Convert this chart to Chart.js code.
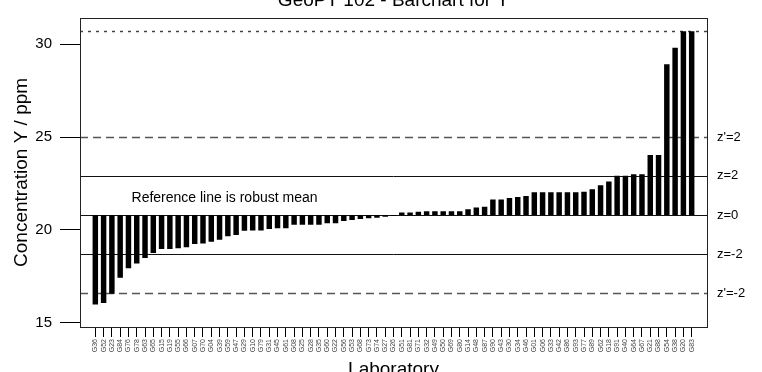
<!DOCTYPE html>
<html>
<head>
<meta charset="utf-8">
<script src="https://cdn.jsdelivr.net/npm/chart.js@4.4.1/dist/chart.umd.min.js"></script>
<style>
  html, body { margin: 0; padding: 0; background: #fff; overflow: hidden; }
  #wrap { width: 762px; height: 372px; position: relative; }
</style>
</head>
<body>
<div id="wrap"><canvas id="c" width="762" height="372"></canvas></div>
<script>
// Laboratory codes, sorted by reported concentration
const labs = [
  'G36','G52','G23','G84','G76','G78','G63','G65','G15','G19','G55','G66','G07','G70','G04','G39','G59','G47','G29','G10',
  'G79','G31','G45','G61','G08','G25','G28','G35','G60','G22','G56','G53','G68','G73','G74','G27','G26','G51','G81','G71',
  'G32','G49','G50','G69','G80','G14','G48','G87','G90','G43','G30','G34','G46','G01','G06','G33','G42','G86','G93','G77',
  'G89','G62','G18','G91','G40','G64','G67','G21','G88','G54','G38','G20','G83'
];

// Reported concentration Y / ppm for each laboratory
const conc = [
  15.97, 16.05, 16.55, 17.42, 17.93, 18.18, 18.48, 18.75, 18.97, 18.97, 19.00, 19.06, 19.24, 19.26, 19.36, 19.46, 19.65, 19.72, 19.95, 19.96,
  19.96, 20.05, 20.09, 20.09, 20.27, 20.27, 20.27, 20.27, 20.35, 20.35, 20.48, 20.53, 20.58, 20.62, 20.65, 20.70, 20.75, 20.93, 20.93, 20.97,
  21.00, 21.00, 21.00, 21.00, 21.00, 21.11, 21.20, 21.24, 21.64, 21.64, 21.71, 21.77, 21.82, 22.02, 22.02, 22.02, 22.02, 22.02, 22.02, 22.05,
  22.19, 22.40, 22.60, 22.92, 22.92, 23.00, 23.00, 24.03, 24.03, 28.93, 29.81, 30.70, 30.70
];

// Robust mean (bars start here) and score limits
const robustMean = 20.80;
const zLevels = [25.00, 22.92, 20.80, 18.68, 16.58];
const zNames  = ["z'=2", 'z=2', 'z=0', 'z=-2', "z'=-2"];
const maxLevel = 30.72;

// Left axis ticks
const yTicks = [15, 20, 25, 30];

const FONT = "'Liberation Sans', Arial, Helvetica, sans-serif";

// line style per score level: dashed for z', solid for z
const zStyle = [
  { dash: [8, 5], color: '#555', width: 1.3 },
  { dash: [],     color: '#111', width: 1 },
  { dash: [],     color: '#111', width: 1 },
  { dash: [],     color: '#111', width: 1 },
  { dash: [8, 5], color: '#555', width: 1.3 }
];

const refLines = {
  id: 'refLines',
  beforeDatasetsDraw(chart) {
    const { ctx, chartArea: a, scales: { y } } = chart;
    ctx.save();
    const hline = (v, st) => {
      const py = Math.round(y.getPixelForValue(v)) + 0.5;
      ctx.beginPath();
      ctx.setLineDash(st.dash);
      ctx.strokeStyle = st.color;
      ctx.lineWidth = st.width;
      ctx.moveTo(a.left, py);
      ctx.lineTo(a.right, py);
      ctx.stroke();
    };
    zLevels.forEach((v, i) => hline(v, zStyle[i]));
    hline(maxLevel, { dash: [3, 5], color: '#444', width: 1.3 });
    ctx.restore();
  }
};

const frame = {
  id: 'frame',
  afterDraw(chart) {
    const { ctx, chartArea: a, scales: { x, y } } = chart;
    ctx.save();
    ctx.strokeStyle = '#222';
    ctx.lineWidth = 1;
    ctx.setLineDash([]);
    ctx.strokeRect(Math.round(a.left) + 0.5, Math.round(a.top) + 0.5,
                   Math.round(a.right - a.left), Math.round(a.bottom - a.top));

    // main title, sitting mostly above the canvas edge
    ctx.fillStyle = '#000';
    ctx.font = '19px ' + FONT;
    ctx.textAlign = 'center';
    ctx.textBaseline = 'alphabetic';
    ctx.fillText('GeoPT 102 - Barchart for Y', (a.left + a.right) / 2, 6);

    // note inside the plot
    ctx.font = '14px ' + FONT;
    ctx.textAlign = 'left';
    ctx.fillText('Reference line is robust mean', x.getPixelForValue(5.37), y.getPixelForValue(21.51));
    ctx.restore();
  }
};

new Chart(document.getElementById('c'), {
  type: 'bar',
  data: {
    datasets: [{
      data: conc.map((v, i) => ({ x: i + 1, y: v })),
      base: robustMean,
      backgroundColor: '#000',
      borderWidth: 0,
      barPercentage: 0.66,
      categoryPercentage: 1
    }]
  },
  options: {
    responsive: false,
    animation: false,
    devicePixelRatio: 1,
    layout: { padding: { top: 13, left: 0, right: 0, bottom: 0 } },
    plugins: { legend: { display: false }, tooltip: { enabled: false } },
    scales: {
      x: {
        type: 'linear',
        offset: false,
        min: -0.85,
        max: 74.85,
        afterBuildTicks: s => { s.ticks = labs.map((_, i) => ({ value: i + 1 })); },
        afterFit: s => { s.height = 45; },
        grid: { display: true, offset: false, drawOnChartArea: false, drawTicks: true, tickLength: 10, color: '#000', lineWidth: 1 },
        border: { display: false },
        ticks: {
          autoSkip: false, minRotation: 90, maxRotation: 90, padding: 2,
          font: { size: 7, family: FONT }, color: '#444',
          callback: v => labs[Math.round(v) - 1] ?? ''
        },
        title: {
          display: true, text: 'Laboratory', color: '#000',
          font: { size: 19, family: FONT, lineHeight: 1 },
          padding: { top: 0, bottom: -7 }
        }
      },
      y: {
        type: 'linear',
        min: 14.76,
        max: 31.43,
        afterBuildTicks: s => { s.ticks = yTicks.map(v => ({ value: v })); },
        afterFit: s => { s.width = 80; },
        grid: { display: true, drawOnChartArea: false, drawTicks: true, tickLength: 20, color: '#000', lineWidth: 1 },
        border: { display: false },
        ticks: { padding: 8, font: { size: 15, family: FONT }, color: '#000' },
        title: {
          display: true, text: 'Concentration Y / ppm', color: '#000',
          font: { size: 19, family: FONT, lineHeight: 1 },
          padding: { top: 12.5, bottom: 0 }
        }
      },
      zr: {
        type: 'linear',
        position: 'right',
        min: 14.76,
        max: 31.43,
        afterBuildTicks: s => { s.ticks = zLevels.map(v => ({ value: v })); },
        afterFit: s => { s.width = 55; },
        grid: { display: false, drawOnChartArea: false, drawTicks: false },
        border: { display: false },
        ticks: {
          padding: 10, font: { size: 13, family: FONT }, color: '#000',
          callback: (v, i) => zNames[i]
        }
      }
    }
  },
  plugins: [refLines, frame]
});
</script>
</body>
</html>
